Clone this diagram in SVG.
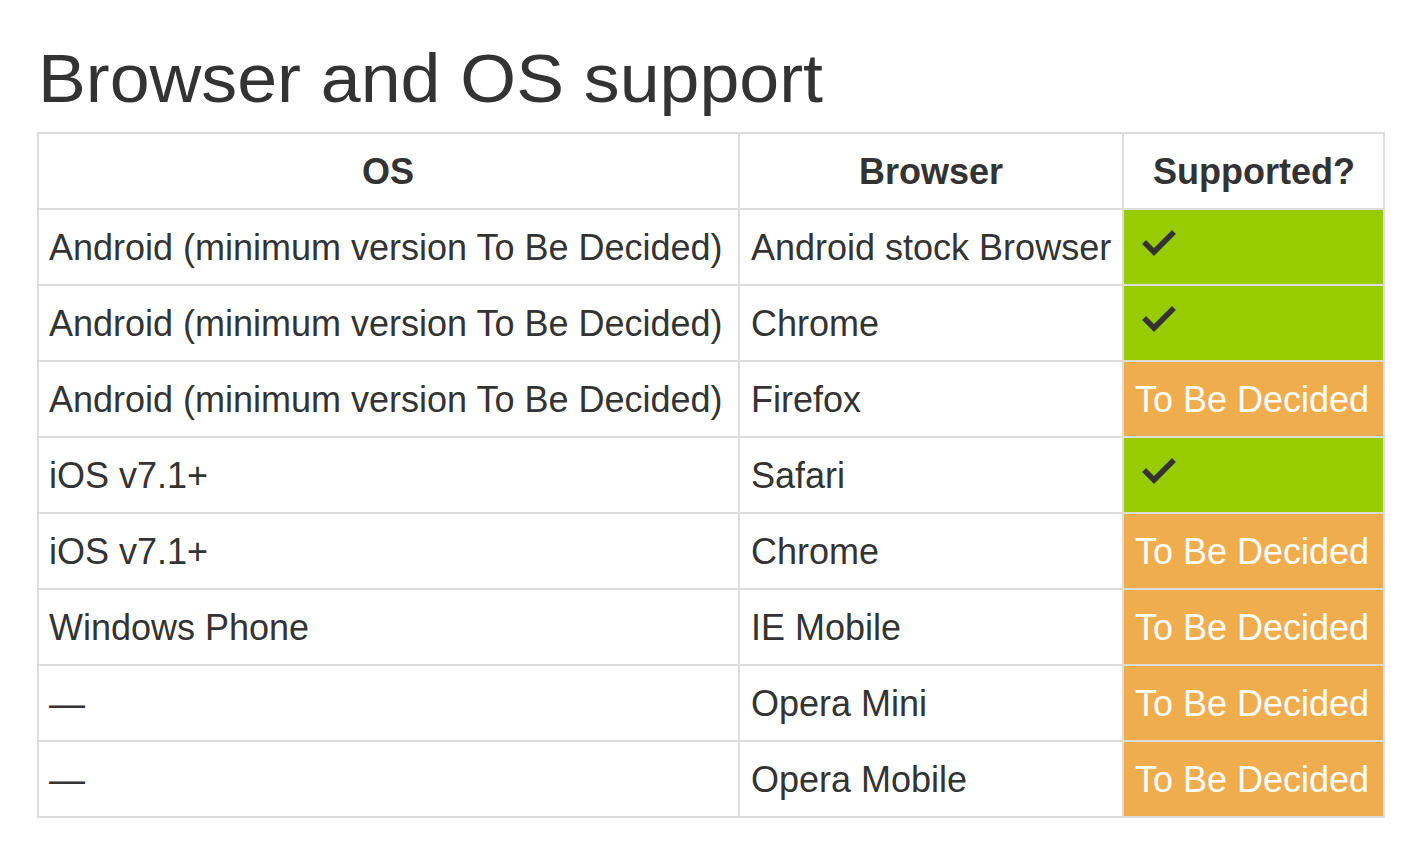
<svg xmlns="http://www.w3.org/2000/svg" width="1426" height="856" viewBox="0 0 1426 856">
<style>
  text { font-family: "Liberation Sans", Arial, sans-serif; fill: #333; }
  .title { font-size: 68px; }
  .th { font-size: 36px; font-weight: bold; text-anchor: middle; }
  .td { font-size: 36px; }
  .tbd { font-size: 36px; fill: #ffffff; }
  .grid line { stroke: #dddddd; stroke-width: 2; }
  .ok { fill: #99cc00; }
  .warn { fill: #f0ad4e; }
  .check { fill: none; stroke: #333; stroke-width: 5.5; stroke-linecap: square; stroke-linejoin: miter; }
</style>
<rect width="1426" height="856" fill="#ffffff"/>
<g id="title"><text class="title" x="38" y="102" textLength="785" lengthAdjust="spacingAndGlyphs">Browser and OS support</text></g>

<g id="cells">
  <rect class="ok" x="1123" y="209" width="262" height="76"/>
  <rect class="ok" x="1123" y="285" width="262" height="76"/>
  <rect class="warn" x="1123" y="361" width="262" height="76"/>
  <rect class="ok" x="1123" y="437" width="262" height="76"/>
  <rect class="warn" x="1123" y="513" width="262" height="76"/>
  <rect class="warn" x="1123" y="589" width="262" height="76"/>
  <rect class="warn" x="1123" y="665" width="262" height="76"/>
  <rect class="warn" x="1123" y="741" width="262" height="76"/>
</g>

<g id="grid" class="grid">
  <line x1="37" y1="133" x2="1385" y2="133"/>
  <line x1="37" y1="209" x2="1385" y2="209"/>
  <line x1="37" y1="285" x2="1385" y2="285"/>
  <line x1="37" y1="361" x2="1385" y2="361"/>
  <line x1="37" y1="437" x2="1385" y2="437"/>
  <line x1="37" y1="513" x2="1385" y2="513"/>
  <line x1="37" y1="589" x2="1385" y2="589"/>
  <line x1="37" y1="665" x2="1385" y2="665"/>
  <line x1="37" y1="741" x2="1385" y2="741"/>
  <line x1="37" y1="817" x2="1385" y2="817"/>
  <line x1="38" y1="132" x2="38" y2="818"/>
  <line x1="739" y1="132" x2="739" y2="818"/>
  <line x1="1123" y1="132" x2="1123" y2="818"/>
  <line x1="1384" y1="132" x2="1384" y2="818"/>
</g>

<g id="header">
  <text class="th" x="388" y="184">OS</text>
  <text class="th" x="931" y="184">Browser</text>
  <text class="th" x="1254" y="184">Supported?</text>
</g>

<g id="row1">
  <text class="td" x="49" y="260">Android (minimum version To Be Decided)</text>
  <text class="td" x="751" y="260">Android stock Browser</text>
  <polyline class="check" points="1146,244 1154,252 1172,234"/>
</g>
<g id="row2">
  <text class="td" x="49" y="336">Android (minimum version To Be Decided)</text>
  <text class="td" x="751" y="336">Chrome</text>
  <polyline class="check" points="1146,320 1154,328 1172,310"/>
</g>
<g id="row3">
  <text class="td" x="49" y="412">Android (minimum version To Be Decided)</text>
  <text class="td" x="751" y="412">Firefox</text>
  <text class="tbd" x="1135" y="412">To Be Decided</text>
</g>
<g id="row4">
  <text class="td" x="49" y="488">iOS v7.1+</text>
  <text class="td" x="751" y="488">Safari</text>
  <polyline class="check" points="1146,472 1154,480 1172,462"/>
</g>
<g id="row5">
  <text class="td" x="49" y="564">iOS v7.1+</text>
  <text class="td" x="751" y="564">Chrome</text>
  <text class="tbd" x="1135" y="564">To Be Decided</text>
</g>
<g id="row6">
  <text class="td" x="49" y="640">Windows Phone</text>
  <text class="td" x="751" y="640">IE Mobile</text>
  <text class="tbd" x="1135" y="640">To Be Decided</text>
</g>
<g id="row7">
  <text class="td" x="49" y="716">—</text>
  <text class="td" x="751" y="716">Opera Mini</text>
  <text class="tbd" x="1135" y="716">To Be Decided</text>
</g>
<g id="row8">
  <text class="td" x="49" y="792">—</text>
  <text class="td" x="751" y="792">Opera Mobile</text>
  <text class="tbd" x="1135" y="792">To Be Decided</text>
</g>
</svg>
